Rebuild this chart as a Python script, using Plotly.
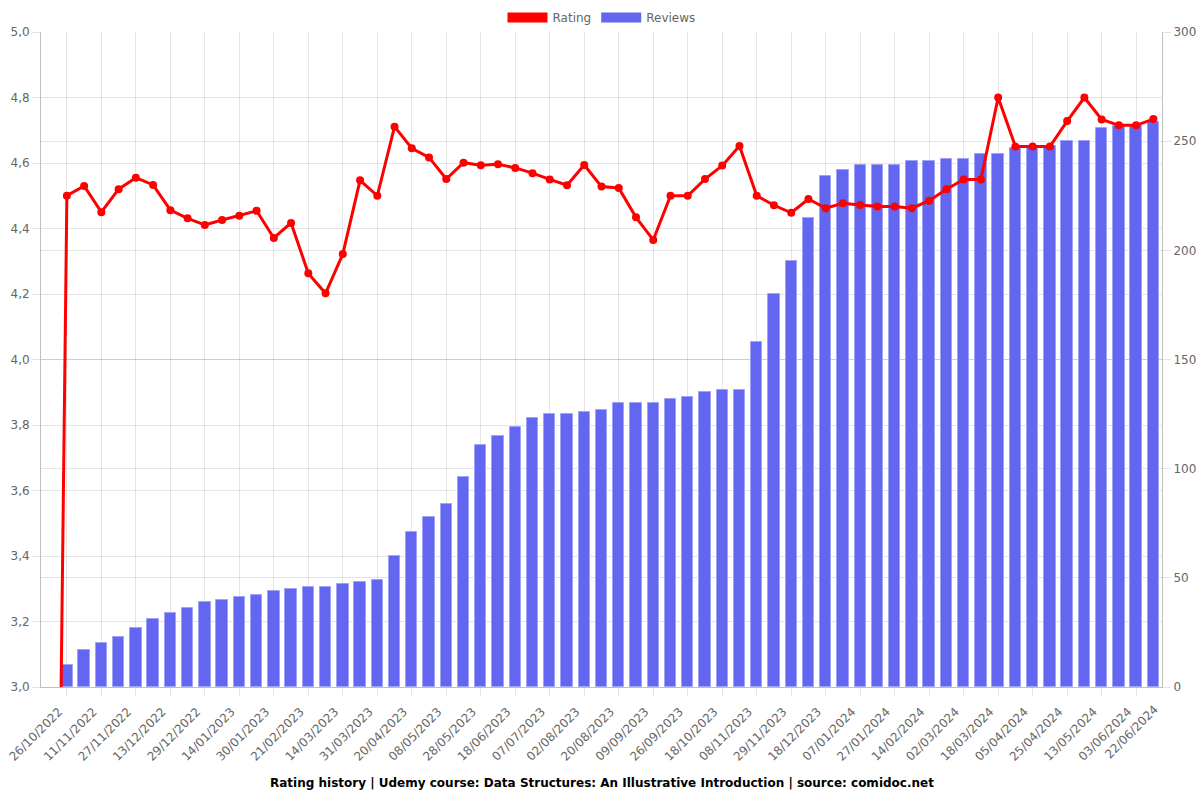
import plotly.graph_objects as go

# Category index 0 is an initial point with no rating yet (drawn off-scale)
ratings = [0,
    4.50, 4.53, 4.45, 4.52, 4.555, 4.533, 4.456, 4.431, 4.411, 4.426,
    4.439, 4.454, 4.371, 4.417, 4.263, 4.202, 4.322, 4.547, 4.50, 4.711,
    4.645, 4.617, 4.551, 4.601, 4.593, 4.596, 4.585, 4.569, 4.550, 4.532,
    4.594, 4.528, 4.524, 4.434, 4.365, 4.50, 4.50, 4.551, 4.592, 4.652,
    4.50, 4.471, 4.448, 4.490, 4.462, 4.477, 4.472, 4.467, 4.467, 4.462,
    4.485, 4.520, 4.550, 4.550, 4.80, 4.65, 4.65, 4.65, 4.728, 4.80,
    4.733, 4.715, 4.715, 4.734]

reviews = [None,
    10, 17, 20, 23, 27, 31, 34, 36, 39, 40,
    41, 42, 44, 45, 46, 46, 47, 48, 49, 60,
    71, 78, 84, 96, 111, 115, 119, 123, 125, 125,
    126, 127, 130, 130, 130, 132, 133, 135, 136, 136,
    158, 180, 195, 215, 234, 237, 239, 239, 239, 241,
    241, 242, 242, 244, 244, 247, 247, 248, 250, 250,
    256, 257, 257, 259]

tick_labels = ["26/10/2022", "11/11/2022", "27/11/2022", "13/12/2022", "29/12/2022",
    "14/01/2023", "30/01/2023", "21/02/2023", "14/03/2023", "31/03/2023",
    "20/04/2023", "08/05/2023", "28/05/2023", "18/06/2023", "07/07/2023",
    "02/08/2023", "20/08/2023", "09/09/2023", "26/09/2023", "18/10/2023",
    "08/11/2023", "29/11/2023", "18/12/2023", "07/01/2024", "27/01/2024",
    "14/02/2024", "02/03/2024", "18/03/2024", "05/04/2024", "25/04/2024",
    "13/05/2024", "03/06/2024", "22/06/2024"]

idx = list(range(len(ratings)))
tick_pos = [1 + 2 * i for i in range(len(tick_labels))]
x_range = [-0.5, len(ratings) - 0.5]

FONT = "DejaVu Sans"
GRID = "rgba(0,0,0,0.1)"
AXIS = "rgba(0,0,0,0.25)"
RED = "#ff0000"
BLUE = "rgb(99,102,241)"

fig = go.Figure()
# bars on the primary (right-side) axis so the rating line draws on top
fig.add_trace(go.Bar(
    x=idx, y=reviews, yaxis="y", width=0.66,
    marker=dict(color=BLUE, line=dict(color="rgba(160,162,246,1)", width=1)),
    showlegend=False, hoverinfo="y"))
fig.add_trace(go.Scatter(
    x=idx, y=ratings, yaxis="y2", mode="lines+markers",
    line=dict(color=RED, width=3), marker=dict(color=RED, size=8),
    showlegend=False, cliponaxis=True))

# legend entries (box style)
fig.add_trace(go.Scatter(x=[None], y=[None], mode="lines", name="Rating",
                         line=dict(color=RED, width=12)))
fig.add_trace(go.Scatter(x=[None], y=[None], mode="lines", name="Reviews",
                         line=dict(color=BLUE, width=12)))

vis_ticks = [p for p in tick_pos if p <= x_range[1]]
fig.update_layout(
    width=1200, height=800,
    margin=dict(l=41, r=38, t=32, b=113, autoexpand=False),
    plot_bgcolor="white", paper_bgcolor="white",
    separators=",.",
    font=dict(family=FONT, size=12, color="#666"),
    bargap=0,
    legend=dict(orientation="h", x=0.5, xanchor="center", y=1.0, yanchor="bottom",
                font=dict(size=12, color="#666"), itemwidth=40),
    xaxis=dict(range=x_range, tickmode="array", tickvals=vis_ticks,
               ticktext=tick_labels[:len(vis_ticks)], tickangle=-45,
               ticklabelshift=-8, ticklabelstandoff=4,
               showgrid=True, gridcolor=GRID, gridwidth=1,
               ticks="outside", ticklen=8, tickcolor=GRID,
               showline=True, linecolor=AXIS, zeroline=False,
               tickfont=dict(size=12, color="#666")),
    yaxis=dict(range=[0, 300], dtick=50, side="right",
               showgrid=True, gridcolor=GRID, ticks="outside", ticklen=8,
               tickcolor=GRID, showline=True, linecolor=AXIS, zeroline=False),
    yaxis2=dict(range=[3.0, 5.0], dtick=0.2, tickformat=".1f",
                overlaying="y", side="left",
                showgrid=True, gridcolor=GRID, ticks="outside", ticklen=8,
                tickcolor=GRID, showline=True, linecolor=AXIS, zeroline=False),
)

# last tick label lies just past the plotted categories
last = tick_pos[-1]
if last > x_range[1]:
    fig.add_annotation(
        x=(last - x_range[0]) / (x_range[1] - x_range[0]), xref="paper",
        y=-0.012, yref="paper", text=tick_labels[-1], textangle=-45,
        showarrow=False, xanchor="right", yanchor="top",
        xshift=-7, yshift=-5,
        font=dict(size=12, color="#666"))

fig.add_annotation(
    x=0.5, xref="paper", y=-0.1466, yref="paper", yanchor="middle",
    text="<b>Rating history | Udemy course: Data Structures: An Illustrative Introduction | source: comidoc.net</b>",
    showarrow=False, font=dict(size=12, color="#000"))

fig.write_html("out.html", config={"displayModeBar": False},
               post_script="document.body.style.margin='0';")
